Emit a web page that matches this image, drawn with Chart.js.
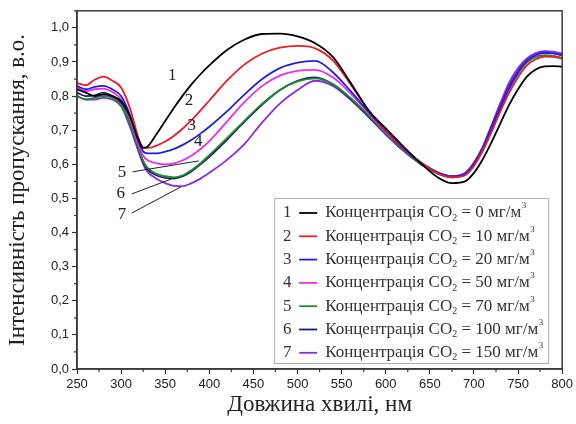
<!DOCTYPE html>
<html>
<head>
<meta charset="utf-8">
<script src="https://cdn.jsdelivr.net/npm/chart.js@4"></script>
<style>
  html,body{margin:0;padding:0;background:#fff}
  #wrap{width:576px;height:424px}
</style>
</head>
<body>
<div id="wrap"><canvas id="ch" width="576" height="424"></canvas></div>
<script>
// wavelength, nm
const WL = [250,260,270,280,290,300,310,320,325,330,340,350,360,370,380,390,400,420,440,460,480,500,520,540,560,580,600,620,640,660,675,690,700,710,720,730,740,750,760,770,780,790,800];

// transmission, a.u.
const S1 = [0.82,0.81,0.80,0.805,0.80,0.785,0.74,0.67,0.648,0.652,0.688,0.727,0.766,0.802,0.835,0.864,0.89,0.935,0.966,0.982,0.983,0.975,0.955,0.915,0.84,0.76,0.705,0.652,0.602,0.56,0.545,0.55,0.575,0.615,0.665,0.72,0.775,0.82,0.857,0.878,0.887,0.888,0.886];
const S2 = [0.838,0.832,0.848,0.857,0.845,0.825,0.765,0.675,0.65,0.648,0.655,0.667,0.684,0.705,0.73,0.758,0.787,0.845,0.893,0.925,0.942,0.947,0.94,0.905,0.835,0.76,0.7,0.648,0.605,0.572,0.562,0.568,0.595,0.64,0.695,0.755,0.81,0.855,0.89,0.908,0.916,0.915,0.91];
const S3 = [0.83,0.82,0.827,0.83,0.82,0.80,0.745,0.665,0.638,0.632,0.632,0.637,0.645,0.657,0.672,0.69,0.71,0.755,0.805,0.85,0.882,0.898,0.903,0.87,0.815,0.755,0.698,0.645,0.605,0.575,0.565,0.572,0.60,0.645,0.705,0.765,0.825,0.87,0.903,0.92,0.927,0.925,0.92];
const S4 = [0.825,0.815,0.82,0.822,0.812,0.79,0.735,0.655,0.625,0.612,0.603,0.60,0.603,0.612,0.626,0.645,0.668,0.725,0.783,0.83,0.86,0.874,0.877,0.855,0.808,0.752,0.694,0.643,0.604,0.575,0.565,0.572,0.60,0.645,0.705,0.765,0.825,0.87,0.905,0.922,0.928,0.926,0.92];
const S5 = [0.80,0.79,0.795,0.80,0.795,0.775,0.72,0.645,0.61,0.59,0.572,0.565,0.562,0.568,0.583,0.603,0.627,0.677,0.728,0.778,0.818,0.843,0.852,0.835,0.795,0.745,0.69,0.64,0.60,0.572,0.562,0.57,0.598,0.64,0.70,0.76,0.82,0.865,0.898,0.915,0.92,0.918,0.912];
const S6 = [0.81,0.80,0.802,0.81,0.80,0.78,0.72,0.645,0.608,0.585,0.568,0.56,0.558,0.565,0.58,0.60,0.622,0.672,0.725,0.775,0.818,0.845,0.855,0.835,0.792,0.742,0.688,0.64,0.60,0.572,0.563,0.572,0.602,0.648,0.71,0.77,0.83,0.873,0.905,0.922,0.928,0.926,0.92];
const S7 = [0.80,0.79,0.79,0.795,0.79,0.77,0.71,0.635,0.60,0.578,0.558,0.545,0.537,0.536,0.545,0.558,0.575,0.613,0.66,0.723,0.778,0.818,0.845,0.83,0.79,0.74,0.688,0.64,0.602,0.575,0.565,0.575,0.605,0.652,0.715,0.78,0.84,0.882,0.91,0.926,0.932,0.93,0.925];

const SERIES = [S1,S2,S3,S4,S5,S6,S7];
const CONC = ['0','10','20','50','70','100','150'];
const COLS = ['#000000','#ee1c24','#1f1fe6','#ee2bee','#1e8c2a','#1a1a70','#8a2be8'];

// curve numbers next to the lines: [label, wl, value]
const NUM_LBL = [['1',358,0.859],['2',377,0.786],['3',380,0.713],['4',387.5,0.666],['5',301,0.575],['6',299.6,0.513],['7',301,0.452]];
// leader lines for 5,6,7: [wl1, v1, wl2, v2]
const LEADERS = [[313,0.578,388,0.61],[312,0.513,357,0.557],[312,0.457,368,0.534]];

const SERIF = '"Liberation Serif","DejaVu Serif",serif';
const SANS = '"Liberation Sans",Arial,sans-serif';

const ds = SERIES.map((s,i) => ({
  label: CONC[i],
  data: WL.map((w,j) => ({x:w, y:s[j]})),
  borderColor: COLS[i], borderWidth: 1.8, pointRadius: 0,
  cubicInterpolationMode: 'monotone', fill: false,
}));

const decor = {
  id: 'decor',
  afterDraw(c) {
    const ctx = c.ctx, a = c.chartArea, x = c.scales.x, y = c.scales.y;
    ctx.save();
    // frame
    ctx.strokeStyle = '#3a3a3a'; ctx.lineWidth = 1.5;
    ctx.strokeRect(a.left, a.top, a.right - a.left, a.bottom - a.top);
    // minor ticks
    ctx.lineWidth = 1.2;
    ctx.beginPath();
    for (let w = 275; w < 800; w += 50) { const px = x.getPixelForValue(w); ctx.moveTo(px, a.bottom); ctx.lineTo(px, a.bottom + 3); }
    for (let v = 0.05; v < 1.05; v += 0.1) { const py = y.getPixelForValue(v); ctx.moveTo(a.left, py); ctx.lineTo(a.left - 3, py); }
    ctx.stroke();

    // curve numbers + leader lines
    ctx.fillStyle = '#222'; ctx.font = '17px ' + SERIF;
    ctx.textAlign = 'center'; ctx.textBaseline = 'middle';
    NUM_LBL.forEach(l => ctx.fillText(l[0], x.getPixelForValue(l[1]), y.getPixelForValue(l[2])));
    ctx.strokeStyle = '#222'; ctx.lineWidth = 1;
    ctx.beginPath();
    LEADERS.forEach(l => {
      ctx.moveTo(x.getPixelForValue(l[0]), y.getPixelForValue(l[1]));
      ctx.lineTo(x.getPixelForValue(l[2]), y.getPixelForValue(l[3]));
    });
    ctx.stroke();

    // legend box
    const bx = a.right - 288, by = a.bottom - 171, bw = 274, bh = 165;
    ctx.fillStyle = '#fff'; ctx.fillRect(bx, by, bw, bh);
    ctx.strokeStyle = '#b0b0b0'; ctx.lineWidth = 1;
    ctx.strokeRect(bx + .5, by + .5, bw, bh);
    CONC.forEach((cn, i) => {
      const ry = by + 15 + i * 23.3;
      ctx.textAlign = 'center'; ctx.textBaseline = 'middle';
      ctx.fillStyle = '#333'; ctx.font = '17px ' + SERIF;
      ctx.fillText(String(i + 1), bx + 13, ry);
      ctx.strokeStyle = COLS[i]; ctx.lineWidth = 1.8;
      ctx.beginPath(); ctx.moveTo(bx + 25, ry); ctx.lineTo(bx + 43, ry); ctx.stroke();
      ctx.textAlign = 'left'; ctx.fillStyle = '#333';
      let tx = bx + 51;
      const t1 = 'Концентрація CO';
      ctx.fillText(t1, tx, ry); tx += ctx.measureText(t1).width;
      ctx.font = '10px ' + SERIF; ctx.fillText('2', tx, ry + 5); tx += ctx.measureText('2').width;
      ctx.font = '17px ' + SERIF;
      const t2 = ' = ' + cn + ' мг/м';
      ctx.fillText(t2, tx, ry); tx += ctx.measureText(t2).width;
      ctx.font = '9px ' + SERIF; ctx.fillText('3', tx + 0.5, ry - 7);
    });
    ctx.restore();
  }
};

new Chart(document.getElementById('ch'), {
  type: 'line',
  data: { datasets: ds },
  options: {
    responsive: false, animation: false,
    layout: { padding: { left: 3, top: 10, right: 11, bottom: 3 } },
    plugins: { legend: { display: false }, tooltip: { enabled: false } },
    scales: {
      x: {
        type: 'linear', min: 250, max: 800,
        ticks: { stepSize: 50, color: '#222', font: { family: SANS, size: 13 }, padding: 3, maxRotation: 0 },
        grid: { drawOnChartArea: false, tickLength: 5, tickColor: '#333', tickWidth: 1.2 },
        border: { color: '#3a3a3a', width: 1.5 },
        title: { display: true, text: 'Довжина хвилі, нм', color: '#222', font: { family: SERIF, size: 23 }, padding: { top: 0, bottom: 2 } },
        afterFit(s) { s.height = 52; },
      },
      y: {
        min: 0, max: 1.05,
        ticks: { stepSize: 0.1, includeBounds: false, color: '#222', font: { family: SANS, size: 13 }, padding: 3,
          callback: v => v.toFixed(1).replace('.', ',') },
        grid: { drawOnChartArea: false, tickLength: 5, tickColor: '#333', tickWidth: 1.2 },
        border: { color: '#3a3a3a', width: 1.5 },
        title: { display: true, text: 'Інтенсивність пропускання, в.о.', color: '#222', font: { family: SERIF, size: 23 }, padding: { top: 1, bottom: 0 } },
        afterFit(s) { s.width = 74; },
      },
    },
  },
  plugins: [decor],
});
</script>
</body>
</html>
